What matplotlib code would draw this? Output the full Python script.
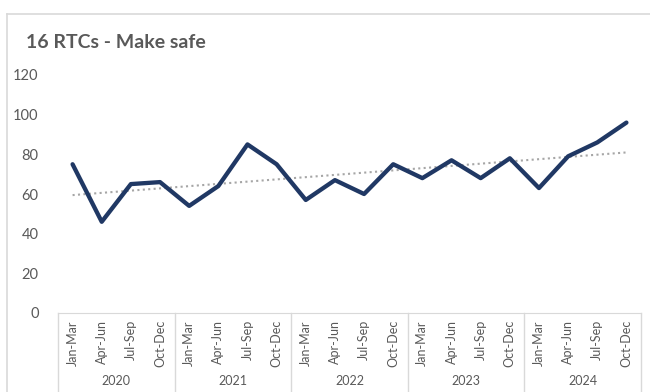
import matplotlib.pyplot as plt
import numpy as np
from matplotlib.lines import Line2D

# Datos trimestrales
anios = ['2020', '2021', '2022', '2023', '2024']
trimestres = ['Jan-Mar', 'Apr-Jun', 'Jul-Sep', 'Oct-Dec']
valores = [75, 46, 65, 66, 54, 64, 85, 75, 57, 67, 60, 75, 68, 77, 68, 78, 63, 79, 86, 96]
titulo = '16 RTCs - Make safe'

plt.rcParams['font.family'] = ['Lato', 'DejaVu Sans']

gris_texto = '#595959'
gris_linea = '#d9d9d9'

fig = plt.figure(figsize=(6.5, 3.92), dpi=100)
ax = fig.add_axes([58 / 650, 79 / 392, 583 / 650, 238 / 392])

x = np.arange(len(valores))
ax.plot(x, valores, color='#203864', linewidth=3.1, solid_joinstyle='round',
        solid_capstyle='round', zorder=3)

# Línea de tendencia lineal
m, b = np.polyfit(x, valores, 1)
ax.plot(x, m * x + b, color='#a6a6a6', linewidth=1.5, linestyle=(0, (1, 1.6)), zorder=2)

ax.set_xlim(-0.5, len(valores) - 0.5)
ax.set_ylim(0, 120)
ax.set_yticks(range(0, 121, 20))
ax.tick_params(axis='y', length=0, pad=14, labelsize=10.5, labelcolor=gris_texto)
ax.set_xticks([])
for lado in ['top', 'right', 'left']:
    ax.spines[lado].set_visible(False)
ax.spines['bottom'].set_color(gris_linea)

# Eje de categorías en dos niveles
tr = ax.get_xaxis_transform()
prof = -79 / 238
for i in range(len(valores)):
    ax.text(i, -7 / 238, trimestres[i % 4], transform=tr, rotation=90,
            ha='center', va='top', fontsize=9, color=gris_texto)
for j, anio in enumerate(anios):
    ax.text(j * 4 + 1.5, -68 / 238, anio, transform=tr, ha='center', va='center',
            fontsize=9, color=gris_texto)
for k in range(len(anios) + 1):
    ax.add_line(Line2D([k * 4 - 0.5, k * 4 - 0.5], [0, prof], transform=tr,
                       color=gris_linea, linewidth=1, clip_on=False))

# Marco del gráfico
fig.add_artist(Line2D([7 / 650, 7 / 650], [0, 1 - 14 / 392], transform=fig.transFigure,
                      color=gris_linea, linewidth=1.2))
fig.add_artist(Line2D([7 / 650, 1], [1 - 14 / 392, 1 - 14 / 392], transform=fig.transFigure,
                      color=gris_linea, linewidth=1.2))

fig.text(26 / 650, 1 - 42 / 392, titulo, ha='left', va='center', fontsize=14,
         fontweight='bold', color=gris_texto)

fig.savefig('out.png', dpi=100)
